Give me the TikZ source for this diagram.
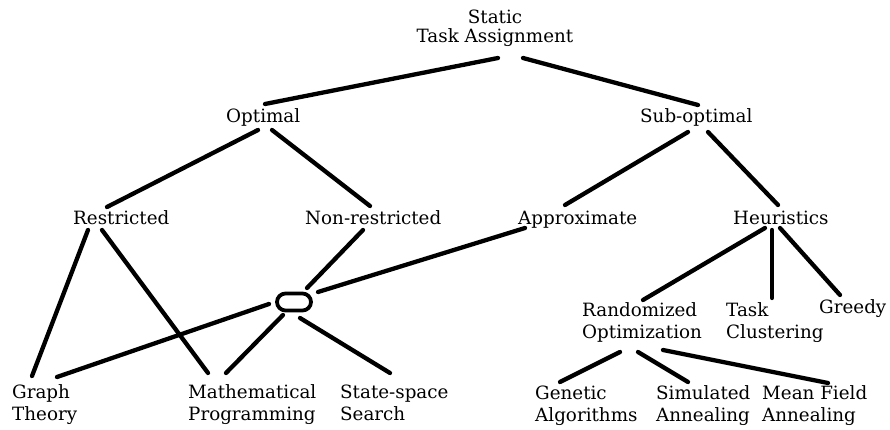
\documentclass[tikz,border=0pt]{standalone}
\usepackage{fontspec}
\setmainfont{DejaVu Serif}
\begin{document}
\begin{tikzpicture}[x=1pt,y=-1pt,
  lbl/.style={inner sep=0pt, align=left, anchor=base west,
    font=\fontsize{18.3}{21.5}\selectfont},
  edge/.style={line width=4.3pt, line cap=round},
  hubbox/.style={draw, line width=3.8pt, rounded corners=8.5pt,
    minimum width=34pt, minimum height=17pt, inner sep=0pt}]
\useasboundingbox (0,0) rectangle (890,430);

% tree labels, placed by the baseline of their last line
\node[lbl, align=center, anchor=base] (static) at (495,43) {Static\\[-2.5pt]Task Assignment};
\node[lbl] (opt)    at (226,123) {Optimal};
\node[lbl] (sub)    at (640,123) {Sub-optimal};
\node[lbl] (restr)  at (73,225)  {Restricted};
\node[lbl] (nonr)   at (305,225) {Non-restricted};
\node[lbl] (approx) at (518,225) {Approximate};
\node[lbl] (heur)   at (733,225) {Heuristics};
\node[lbl] (rand)   at (582,338) {Randomized\\Optimization};
\node[lbl] (task)   at (726,338) {Task\\Clustering};
\node[lbl] (greedy) at (819,313) {Greedy};
\node[lbl] (graph)  at (12,420)  {Graph\\Theory};
\node[lbl] (math)   at (188,420) {Mathematical\\Programming};
\node[lbl] (state)  at (340,420) {State-space\\Search};
\node[lbl] (gen)    at (535,421) {Genetic\\Algorithms};
\node[lbl] (sim)    at (656,421) {Simulated\\Annealing};
\node[lbl] (mean)   at (762,421) {Mean Field\\Annealing};

% junction shared by the exact methods
\node[hubbox] (hub) at (294,302) {};

% connectors
\draw[edge] ([shift={(3,15)}]static.base)  -- ([shift={(39,-19)}]opt.base west);
\draw[edge] ([shift={(28,15)}]static.base) -- ([shift={(58,-18)}]sub.base west);
\draw[edge] ([shift={(32,7)}]opt.base west) -- ([shift={(34,-18)}]restr.base west);
\draw[edge] ([shift={(46,7)}]opt.base west) -- ([shift={(65,-19)}]nonr.base west);
\draw[edge] ([shift={(48,9)}]sub.base west) -- ([shift={(47,-20)}]approx.base west);
\draw[edge] ([shift={(68,9)}]sub.base west) -- ([shift={(45,-20)}]heur.base west);
\draw[edge] ([shift={(15,5)}]restr.base west) -- ([shift={(20,-44)}]graph.base west);
\draw[edge] ([shift={(29,5)}]restr.base west) -- ([shift={(20,-47)}]math.base west);
\draw[edge] ([shift={(58,5)}]nonr.base west) -- ([shift={(13,-14)}]hub.center);
\draw[edge] ([shift={(7,3)}]approx.base west) -- ([shift={(24,-10)}]hub.center);
\draw[edge] ([shift={(-25,2)}]hub.center) -- ([shift={(45,-43)}]graph.base west);
\draw[edge] ([shift={(-11,13)}]hub.center) -- ([shift={(38,-47)}]math.base west);
\draw[edge] ([shift={(6,16)}]hub.center) -- ([shift={(50,-47)}]state.base west);
\draw[edge] ([shift={(32,3)}]heur.base west) -- ([shift={(61,-38)}]rand.base west);
\draw[edge] ([shift={(39,5)}]heur.base west) -- ([shift={(46,-40)}]task.base west);
\draw[edge] ([shift={(47,3)}]heur.base west) -- ([shift={(21,-18)}]greedy.base west);
\draw[edge] ([shift={(38,14)}]rand.base west) -- ([shift={(25,-39)}]gen.base west);
\draw[edge] ([shift={(56,14)}]rand.base west) -- ([shift={(32,-39)}]sim.base west);
\draw[edge] ([shift={(81,12)}]rand.base west) -- ([shift={(66,-38)}]mean.base west);
\end{tikzpicture}
\end{document}
